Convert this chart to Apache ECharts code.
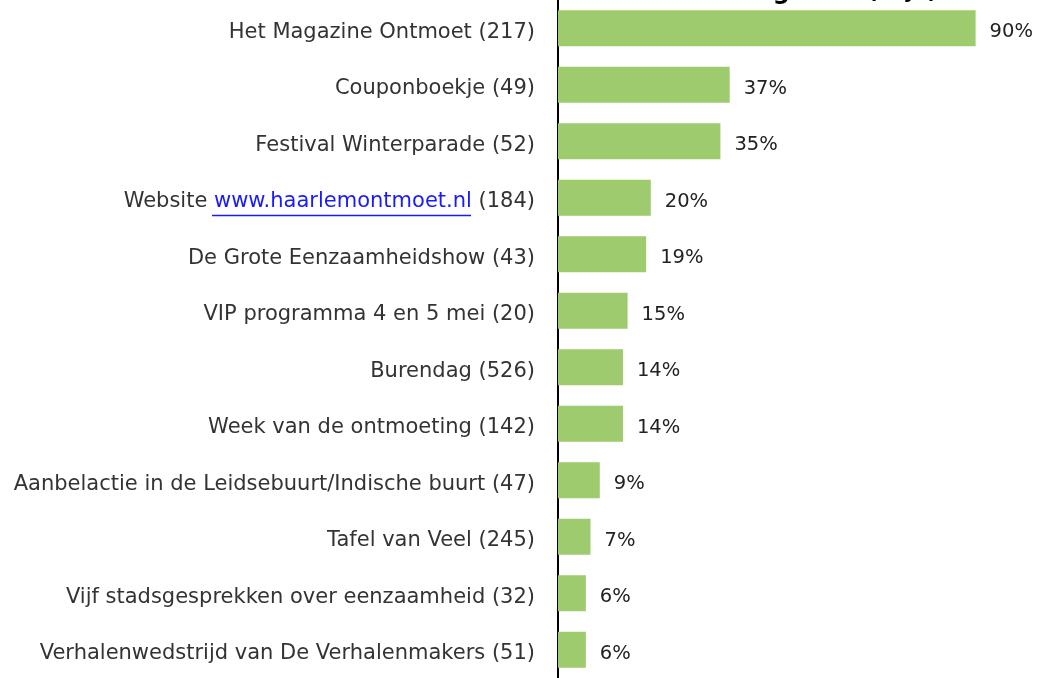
<!DOCTYPE html>
<html>
<head>
<meta charset="utf-8">
<script src="https://cdn.jsdelivr.net/npm/echarts@6/dist/echarts.min.js"></script>
<style>
  html, body { margin: 0; padding: 0; background: #fff; }
  #chart { width: 1038px; height: 678px; }
</style>
</head>
<body>
<div id="chart"></div>
<script>
const categories = [
  "Het Magazine Ontmoet (217)",
  "Couponboekje (49)",
  "Festival Winterparade (52)",
  "Website www.haarlemontmoet.nl (184)",
  "De Grote Eenzaamheidshow (43)",
  "VIP programma 4 en 5 mei (20)",
  "Burendag (526)",
  "Week van de ontmoeting (142)",
  "Aanbelactie in de Leidsebuurt/Indische buurt (47)",
  "Tafel van Veel (245)",
  "Vijf stadsgesprekken over eenzaamheid (32)",
  "Verhalenwedstrijd van De Verhalenmakers (51)"
];
const percentages = [90, 37, 35, 20, 19, 15, 14, 14, 9, 7, 6, 6];

const font = "'DejaVu Sans', 'Open Sans', sans-serif";
const chart = echarts.init(document.getElementById("chart"));

const option = {
  animation: false,
  title: {
    text: "{b|Bekendheid en waardering} {n|items (% ja)}",
    right: 96,
    top: -24,
    textStyle: {
      rich: {
        b: { fontFamily: font, fontSize: 24, lineHeight: 24, fontWeight: "bold", color: "#000" },
        n: { fontFamily: font, fontSize: 21, lineHeight: 24, color: "#000" }
      }
    }
  },
  grid: { left: 558, right: 16, top: 0, height: 690 },
  xAxis: {
    type: "value",
    min: 0,
    max: 100,
    show: false
  },
  yAxis: {
    type: "category",
    inverse: true,
    data: categories,
    axisLine: { show: true, lineStyle: { color: "#000", width: 2 } },
    axisTick: { show: false },
    axisLabel: {
      margin: 23,
      fontFamily: font,
      fontSize: 21,
      color: "#333",
      padding: [8, 0, 0, 0],
      formatter: function (v) {
        const m = v.match(/^(.*?)(www\.\S+)(.*)$/);
        if (m) return m[1] + "{link|" + m[2] + "}" + m[3];
        return v;
      },
      rich: {
        link: { fontFamily: font, fontSize: 21, color: "#1a1aff" }
      }
    }
  },
  series: [
    {
      type: "bar",
      data: percentages,
      barWidth: 36,
      itemStyle: { color: "#9dcb6d" },
      label: {
        show: true,
        position: "right",
        distance: 14,
        offset: [0, 4],
        fontFamily: font,
        fontSize: 19.5,
        color: "#222",
        formatter: "{c}%"
      }
    }
  ],
  graphic: [
    {
      type: "line",
      shape: { x1: 212, y1: 215.5, x2: 471, y2: 215.5 },
      style: { stroke: "#1a1aff", lineWidth: 1.5 }
    }
  ]
};

chart.setOption(option);
</script>
</body>
</html>
